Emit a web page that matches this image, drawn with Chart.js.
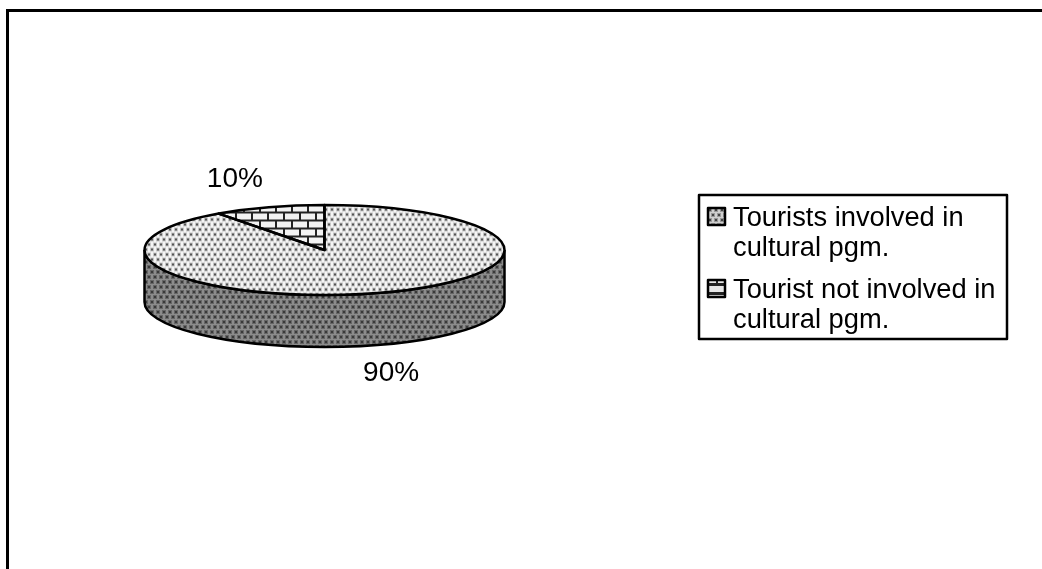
<!DOCTYPE html>
<html lang="en">

<head>
    <meta charset="UTF-8">
    <title>Tourists in cultural programmes</title>
    <script src="https://cdn.jsdelivr.net/npm/chart.js"></script>
    <style>
        html, body { margin: 0; padding: 0; background: #fff; overflow: hidden; }
        #canvasPizza { display: block; }
    </style>
</head>

<body>
    <canvas id="canvasPizza" width="1042" height="569"></canvas>

    <script>
        const labelsPizza = [
            ['Tourists involved in', 'cultural pgm.'],
            ['Tourist not involved in', 'cultural pgm.']
        ];
        const valoresPizza = [90, 10];

        const FONTE = '"Liberation Sans", Arial, sans-serif';
        const ACHATAMENTO = 45 / 180; // ellipse height / width of the pie top
        const ALTURA_LATERAL = 52;    // depth of the disc wall

        // offset of each percent label from the rim of its slice
        const offsetRotulos = [{ x: 11, y: 28 }, { x: -34, y: -28 }];

        function ladrilho(w, h, desenha) {
            const c = document.createElement('canvas');
            c.width = w;
            c.height = h;
            desenha(c.getContext('2d'));
            return c;
        }

        // staggered dots with a soft halo round each one
        function pontilhado(fundo, halo, ponto) {
            return ladrilho(6, 10, (g) => {
                g.fillStyle = fundo;
                g.fillRect(0, 0, 6, 10);
                g.fillStyle = halo;
                g.fillRect(0, 0, 4, 4);
                g.fillRect(3, 5, 3, 4);
                g.fillRect(0, 5, 1, 4);
                g.fillStyle = ponto;
                g.fillRect(1, 1, 2, 2);
                g.fillRect(4, 6, 2, 2);
            });
        }

        const tijolo = ladrilho(16, 16, (g) => {
            g.fillStyle = '#f2f2f2';
            g.fillRect(0, 0, 16, 16);
            g.fillStyle = '#222';
            g.fillRect(0, 0, 16, 2);
            g.fillRect(0, 8, 16, 2);
            g.fillRect(3, 0, 2, 8);
            g.fillRect(11, 8, 2, 8);
        });

        const ctx = document.getElementById('canvasPizza').getContext('2d');

        // the pie is squashed while it is drawn, so the fills get the opposite
        // vertical scale to keep their tiles at their normal size
        function padraoEsticado(tile) {
            const p = ctx.createPattern(tile, 'repeat');
            p.setTransform(new DOMMatrix().scale(1, 1 / ACHATAMENTO));
            return p;
        }

        const padraoLateral = ctx.createPattern(pontilhado('#8c8c8c', '#666', '#3a3a3a'), 'repeat');

        const pizza3d = {
            id: 'pizza3d',
            beforeDatasetsDraw(chart) {
                const c = chart.ctx;
                const arco = chart.getDatasetMeta(0).data[0];
                const rx = arco.outerRadius;
                const ry = rx * ACHATAMENTO;

                // disc wall, only the front half shows
                c.beginPath();
                c.ellipse(arco.x, arco.y, rx, ry, 0, 0, Math.PI);
                c.ellipse(arco.x, arco.y + ALTURA_LATERAL, rx, ry, 0, Math.PI, 0, true);
                c.closePath();
                c.fillStyle = padraoLateral;
                c.fill();
                c.lineWidth = 2.5;
                c.strokeStyle = '#000';
                c.stroke();

                c.save();
                c.translate(arco.x, arco.y);
                c.scale(1, ACHATAMENTO);
                c.translate(-arco.x, -arco.y);
            },
            afterDatasetsDraw(chart) {
                const c = chart.ctx;
                c.restore();

                const meta = chart.getDatasetMeta(0);
                const total = valoresPizza.reduce((a, b) => a + b, 0);

                c.lineWidth = 2.5;
                c.strokeStyle = '#000';
                c.lineJoin = 'round';
                meta.data.forEach((arco) => {
                    const ry = arco.outerRadius * ACHATAMENTO;
                    c.beginPath();
                    c.moveTo(arco.x, arco.y);
                    c.ellipse(arco.x, arco.y, arco.outerRadius, ry, 0, arco.startAngle, arco.endAngle);
                    c.closePath();
                    c.stroke();
                });

                // percent labels, placed from the middle of each slice
                c.fillStyle = '#000';
                c.font = '28px ' + FONTE;
                c.textAlign = 'center';
                c.textBaseline = 'middle';
                meta.data.forEach((arco, i) => {
                    const meio = (arco.startAngle + arco.endAngle) / 2;
                    const ry = arco.outerRadius * ACHATAMENTO;
                    let y = arco.y + Math.sin(meio) * ry;
                    if (Math.sin(meio) > 0) y += ALTURA_LATERAL;
                    const x = arco.x + Math.cos(meio) * arco.outerRadius;
                    const texto = Math.round(valoresPizza[i] / total * 100) + '%';
                    c.fillText(texto, x + offsetRotulos[i].x, y + offsetRotulos[i].y);
                });
            }
        };

        // outer frame and the boxed legend with two-line entries
        const molduraLegenda = {
            id: 'molduraLegenda',
            beforeDraw(chart) {
                const c = chart.ctx;
                c.fillStyle = '#000';
                c.fillRect(6, 9, 1036, 3);
                c.fillRect(6, 9, 3, 560);
            },
            afterDraw(chart) {
                const c = chart.ctx;
                c.lineWidth = 2.5;
                c.strokeStyle = '#000';
                c.strokeRect(699, 195, 308, 144);

                const amostras = [pontilhado('#cfcfcf', '#999', '#444'), ladrilho(16, 16, (g) => {
                    g.fillStyle = '#e6e6e6';
                    g.fillRect(0, 0, 16, 16);
                    g.fillStyle = '#222';
                    g.fillRect(0, 3, 16, 3);
                    g.fillRect(0, 12, 16, 3);
                    g.fillRect(8, 0, 2, 4);
                })];
                const topos = [208, 280];

                c.font = '27.3px ' + FONTE;
                c.textAlign = 'left';
                c.textBaseline = 'alphabetic';
                labelsPizza.forEach((linhas, i) => {
                    c.save();
                    c.translate(708, topos[i]);
                    c.fillStyle = c.createPattern(amostras[i], 'repeat');
                    c.fillRect(0, 0, 17, 17);
                    c.strokeStyle = '#000';
                    c.lineWidth = 2.5;
                    c.strokeRect(0, 0, 17, 17);
                    c.restore();

                    c.fillStyle = '#000';
                    linhas.forEach((linha, j) => {
                        c.fillText(linha, 733, topos[i] + 18 + j * 30);
                    });
                });
            }
        };

        const configPizza = {
            type: 'pie',
            data: {
                labels: labelsPizza,
                datasets: [{
                    data: valoresPizza,
                    backgroundColor: [padraoEsticado(pontilhado('#f4f4f4', '#c4c4c4', '#555')), padraoEsticado(tijolo)],
                    borderWidth: 0
                }]
            },
            plugins: [molduraLegenda, pizza3d],
            options: {
                responsive: false,
                animation: false,
                layout: {
                    padding: { left: 144, right: 537, top: 70, bottom: 139 }
                },
                plugins: {
                    legend: { display: false },
                    tooltip: { enabled: false }
                }
            }
        };

        const GraficoPizza = new Chart(ctx, configPizza);
    </script>
</body>

</html>
